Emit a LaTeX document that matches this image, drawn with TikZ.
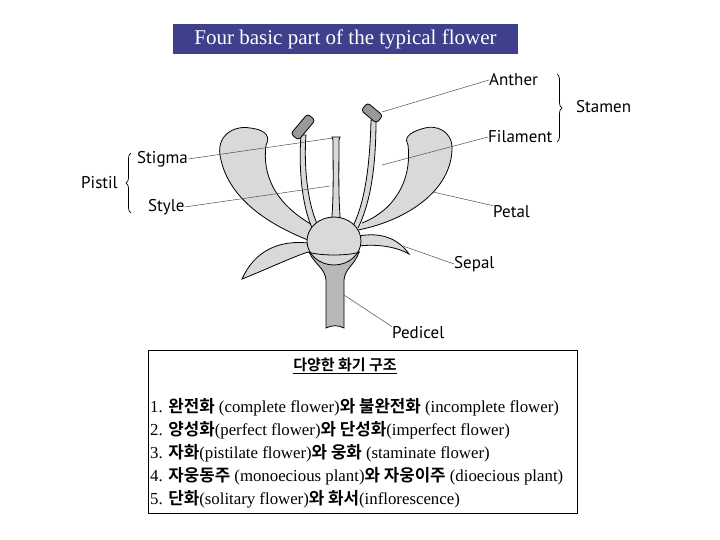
\documentclass[tikz,border=0pt]{standalone}
\usepackage{fontspec}
\setmainfont{Liberation Serif}
\newfontfamily\lab{PT Sans}
\newfontfamily\kr{Noto Sans CJK KR}[BoldFont={* Bold}]
\usetikzlibrary{decorations.pathreplacing}
\begin{document}
\begin{tikzpicture}[x=1pt,y=-1pt,
  lbl/.style={font=\lab\fontsize{17}{19}\selectfont,inner sep=0pt},
  lead/.style={draw=black!70,line width=0.5pt},
  part/.style={draw=black,line width=0.8pt,fill=black!15},
  dark/.style={draw=black,line width=0.8pt,fill=black!40},
  kl/.style={anchor=west,inner sep=0pt,font=\fontsize{16.8}{18}\selectfont}]
\useasboundingbox (0,0) rectangle (720,540);
\node[fill={rgb,255:red,62;green,64;blue,140},text=white,minimum width=345,minimum height=30,inner sep=0pt,font=\fontsize{21}{23}\selectfont] (title) at (345.5,39) {Four basic part of the typical flower};
% petals
\draw[part] (308,240) .. controls (270,225) and (230,200) .. (221,160) .. controls (214,135) and (235,125) .. (250,128) .. controls (268,130) and (270,138) .. (266,145) .. controls (262,175) and (275,205) .. (316,227);
\draw[part] (358,230) .. controls (400,222) and (450,195) .. (452,150) .. controls (453,130) and (435,125) .. (425,128) .. controls (405,133) and (405,140) .. (408,145) .. controls (412,180) and (395,210) .. (362,223);
% filaments
\draw[part] (312,228) .. controls (300,200) and (299,160) .. (301,135) -- (306,135) .. controls (304,160) and (306,200) .. (318,226);
\draw[part] (353,226) .. controls (366,200) and (370,160) .. (371,120) -- (376,120) .. controls (376,160) and (372,200) .. (358,228);
% anthers
\draw[dark,rounded corners=3pt,rotate around={50:(303,127)}] (290,122) rectangle (316,132);
\draw[dark,rounded corners=3pt,rotate around={-40:(372,113)}] (362,108) rectangle (382,118);
% sepals
\draw[part] (308,243) .. controls (280,240) and (255,250) .. (242,279) .. controls (265,270) and (290,258) .. (308,252);
\draw[part] (359,236) .. controls (380,232) and (398,238) .. (409,254) .. controls (395,246) and (375,244) .. (359,246);
% pedicel and receptacle
\draw[dark,fill=black!28] (309,252) .. controls (315,265) and (325,268) .. (326,280) -- (326,328) .. controls (332,325) and (338,325) .. (344,328) -- (344,280) .. controls (345,268) and (355,265) .. (359,252) -- cycle;
% style
\draw[part] (331,226) .. controls (334,200) and (333,170) .. (333,140) -- (332,137) -- (340,137) -- (339,140) .. controls (339,170) and (338,200) .. (341,226) -- cycle;
% ovary
\draw[part] (334,241) circle [x radius=27, y radius=24];
\draw[line width=0.8pt] (308,252) .. controls (320,256) and (348,256) .. (360,252);
% labels
\node[lbl,anchor=west] (anther) at (489,80) {Anther};
\node[lbl,anchor=west] (filament) at (488,137) {Filament};
\node[lbl,anchor=west] (stamen) at (576,107) {Stamen};
\node[lbl,anchor=west] (stigma) at (137,159) {Stigma};
\node[lbl,anchor=west] (style) at (148,207) {Style};
\node[lbl,anchor=west] (pistil) at (81,183) {Pistil};
\node[lbl,anchor=west] (petal) at (493,212) {Petal};
\node[lbl,anchor=west] (sepal) at (454,264) {Sepal};
\node[lbl,anchor=west] (pedicel) at (392,333) {Pedicel};
\coordinate (pa) at (382,112); \coordinate (pf) at (382,165);
\coordinate (ps) at (333,138); \coordinate (py) at (330,186);
\coordinate (pp) at (433,192); \coordinate (pse) at (403,246);
\coordinate (ppe) at (344,295);
\draw[lead] (anther.west) -- (pa);
\draw[lead] (filament.west) -- (pf);
\draw[lead] (stigma.east) -- (ps);
\draw[lead] (style.east) -- (py);
\draw[lead] (petal.north west) -- (pp);
\draw[lead] (sepal.west) -- (pse);
\draw[lead] (pedicel.north west) -- (ppe);
\draw[line width=0.7pt,decorate,decoration={brace,amplitude=5pt}] (557,74) -- (557,142);
\draw[line width=0.7pt,decorate,decoration={brace,amplitude=5pt}] (131,213) -- (131,153);
% text box
\node[draw=black,line width=0.7pt,minimum width=429,minimum height=163,inner sep=0pt] (box) at (362.5,431.5) {};
\node[inner sep=0pt,font=\kr\bfseries\fontsize{15}{17}\selectfont] (bt) at (345,366) {\underline{다양한 화기 구조}};
\node[kl] (l1) at (150,407) {1. {\kr\bfseries 완전화} (complete flower){\kr\bfseries 와 불완전화} (incomplete flower)};
\node[kl] (l2) at (150,430) {2. {\kr\bfseries 양성화}(perfect flower){\kr\bfseries 와 단성화}(imperfect flower)};
\node[kl] (l3) at (150,453) {3. {\kr\bfseries 자화}(pistilate flower){\kr\bfseries 와 웅화} (staminate flower)};
\node[kl] (l4) at (150,476) {4. {\kr\bfseries 자웅동주} (monoecious plant){\kr\bfseries 와 자웅이주} (dioecious plant)};
\node[kl] (l5) at (150,499) {5. {\kr\bfseries 단화}(solitary flower){\kr\bfseries 와 화서}(inflorescence)};
\end{tikzpicture}
\end{document}
